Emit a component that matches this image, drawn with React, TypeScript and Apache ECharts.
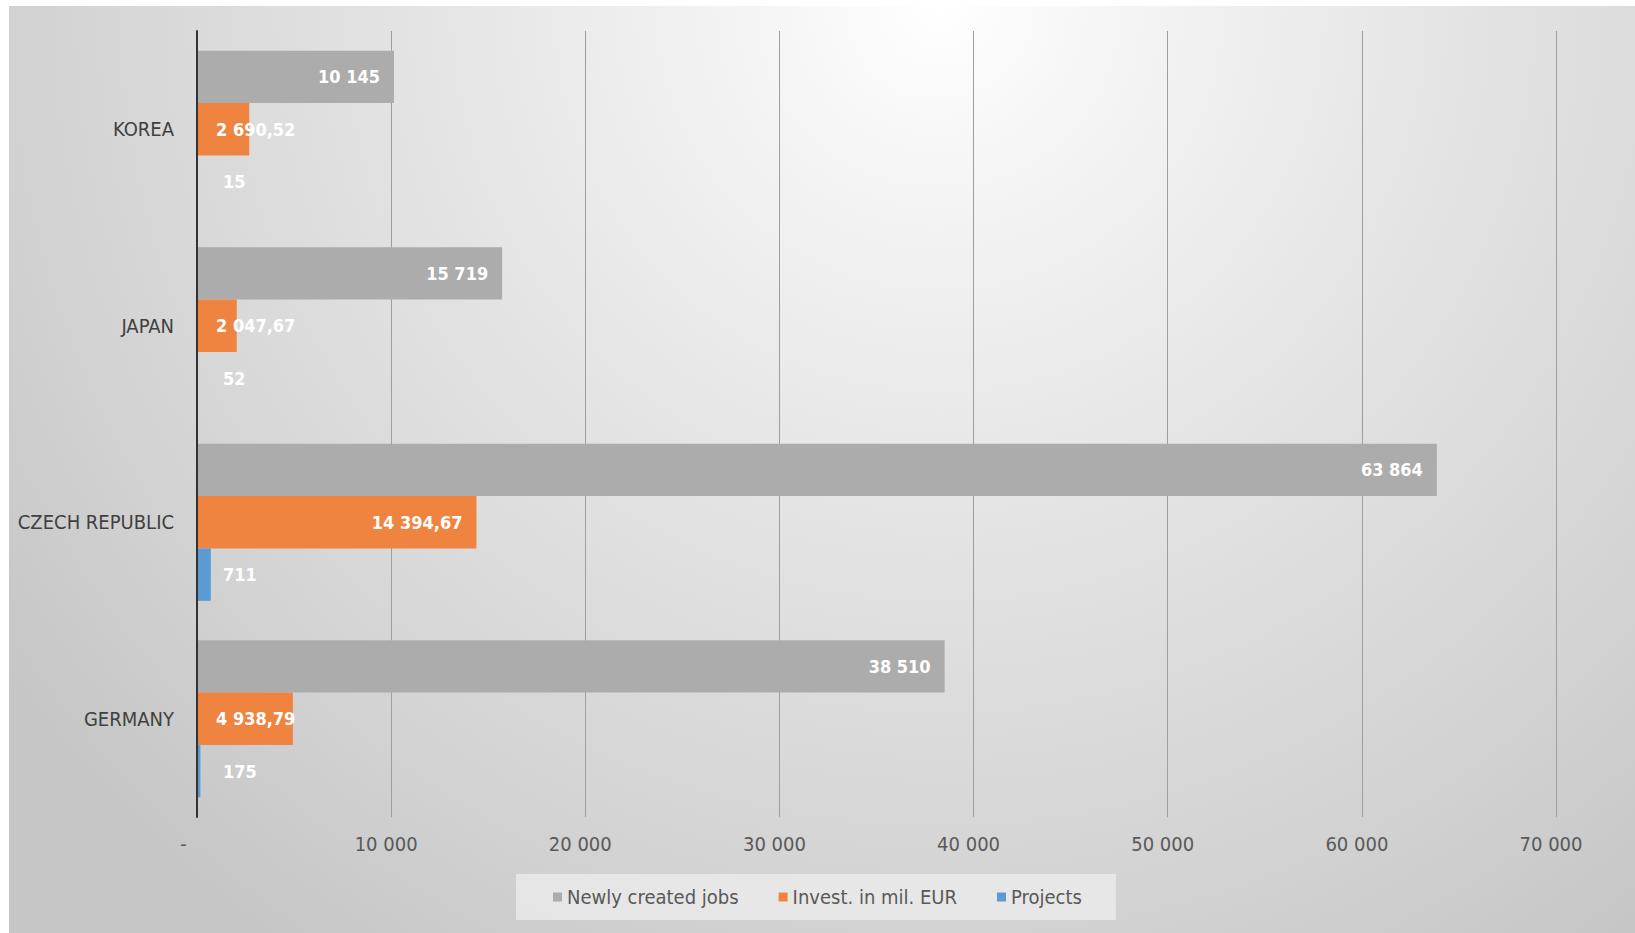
import React, { useEffect, useRef } from 'react';
import * as echarts from 'echarts';

// ---- data ----
const categories = ['GERMANY', 'CZECH REPUBLIC', 'JAPAN', 'KOREA'];
const seriesNames = ['Newly created jobs', 'Invest. in mil. EUR', 'Projects'];
const jobs = [38510, 63864, 15719, 10145];
const invest = [4938.79, 14394.67, 2047.67, 2690.52];
const projects = [175, 711, 52, 15];
const xMin = 0;
const xMax = 70000;
const xStep = 10000;

const FONT = '"DejaVu Sans Condensed", "Noto Sans", sans-serif';

function formatNum(v: number, decimals: number): string {
  const [i, d] = v.toFixed(decimals).split('.');
  const withSp = i.replace(/\B(?=(\d{3})+(?!\d))/g, ' ');
  return d ? withSp + ',' + d : withSp;
}

function buildData(values: number[], smallDistance: number) {
  return values.map((v) => {
    const fits = v >= 8000;
    return {
      value: v,
      label: fits
        ? { position: 'insideRight', distance: 14 }
        : { position: 'insideLeft', distance: smallDistance },
    };
  });
}

export default function App() {
  const ref = useRef<HTMLDivElement>(null);

  useEffect(() => {
    if (!ref.current) return;
    document.documentElement.style.overflow = 'hidden';
    const chart = echarts.init(ref.current, undefined, { renderer: 'svg' });

    const labelBase = {
      show: true,
      color: '#ffffff',
      fontFamily: FONT,
      fontWeight: 'bold' as const,
      fontSize: 18,
    };

    const option = {
      animation: false,
      graphic: [
        {
          type: 'rect',
          silent: true,
          z: -100,
          shape: { x: 0, y: 0, width: 1626, height: 927 },
          style: {
            fill: {
              type: 'radial',
              x: 930,
              y: 0,
              r: 1150,
              global: true,
              colorStops: [
                { offset: 0, color: '#ffffff' },
                { offset: 0.15, color: '#f5f5f5' },
                { offset: 0.45, color: '#e4e4e4' },
                { offset: 0.8, color: '#d2d2d2' },
                { offset: 1, color: '#c6c6c6' },
              ],
            },
          },
        },
      ],
      grid: { left: 188, right: 79, top: 25, bottom: 116, containLabel: false },
      legend: {
        data: seriesNames,
        left: 507,
        top: 868,
        orient: 'horizontal',
        icon: 'rect',
        itemWidth: 9,
        itemHeight: 9,
        itemGap: 40,
        padding: [12, 34, 12, 37],
        backgroundColor: 'rgba(240,240,240,0.7)',
        textStyle: { fontFamily: FONT, fontSize: 20, color: '#595959', lineHeight: 22 },
      },
      xAxis: {
        type: 'value',
        min: xMin,
        max: xMax,
        interval: xStep,
        axisLine: { show: false },
        axisTick: { show: false },
        splitLine: { show: true, lineStyle: { color: '#9e9e9e', width: 1 } },
        axisLabel: {
          margin: 17,
          formatter: (v: number) => (v === 0 ? '{z|-}' : '{n|' + formatNum(v, 0) + '}'),
          rich: {
            z: { fontFamily: FONT, fontSize: 20, color: '#595959', padding: [0, 27, 0, 0] },
            n: { fontFamily: FONT, fontSize: 20, color: '#595959', padding: [0, 10, 0, 0] },
          },
        },
      },
      yAxis: {
        type: 'category',
        z: 10,
        data: categories,
        axisLine: { show: true, lineStyle: { color: '#333333', width: 2 } },
        axisTick: { show: false },
        splitLine: { show: false },
        axisLabel: { margin: 23, fontFamily: FONT, fontSize: 20, color: '#404040' },
      },
      series: [
        {
          name: seriesNames[0],
          type: 'bar',
          data: buildData(jobs, 20),
          barGap: '0%',
          barCategoryGap: '20%',
          itemStyle: { color: '#acacac' },
          label: { ...labelBase, formatter: (p: any) => formatNum(p.value, 0) },
        },
        {
          name: seriesNames[1],
          type: 'bar',
          data: buildData(invest, 19),
          barGap: '0%',
          barCategoryGap: '20%',
          itemStyle: { color: '#ee843f' },
          label: { ...labelBase, formatter: (p: any) => formatNum(p.value, 2) },
        },
        {
          name: seriesNames[2],
          type: 'bar',
          data: buildData(projects, 26),
          barGap: '0%',
          barCategoryGap: '20%',
          itemStyle: { color: '#5b9bd5' },
          label: { ...labelBase, formatter: (p: any) => formatNum(p.value, 0) },
        },
      ],
    };

    chart.setOption(option as any);
    return () => {
      chart.dispose();
    };
  }, []);

  return (
    <div
      ref={ref}
      style={{ position: 'absolute', left: 9, top: 6, width: 1626, height: 927 }}
    />
  );
}
